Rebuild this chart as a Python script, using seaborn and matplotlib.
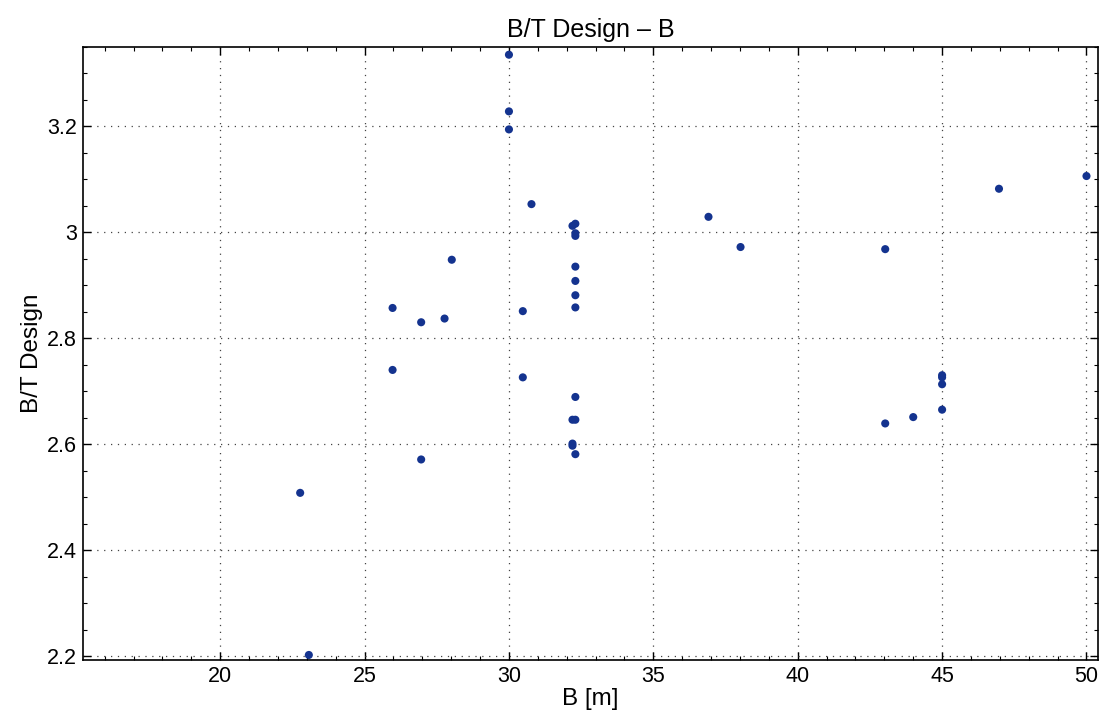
import matplotlib
matplotlib.use("Agg")
import matplotlib.pyplot as plt
from matplotlib.ticker import MultipleLocator
import seaborn as sns
import pandas as pd

B = [22.77, 23.07, 25.97, 25.97, 26.96, 26.96, 27.77, 28.02,
     30.0, 30.0, 30.0, 30.78, 30.48, 30.48,
     32.3, 32.2, 32.3, 32.3, 32.3, 32.3, 32.3, 32.3, 32.3,
     32.2, 32.3, 32.2, 32.2, 32.3,
     36.91, 38.02, 43.03, 46.97, 50.0,
     43.03, 44.0, 45.0, 45.0, 45.0, 45.0]
BT = [2.508, 2.202, 2.857, 2.740, 2.830, 2.571, 2.837, 2.948,
      3.335, 3.228, 3.194, 3.053, 2.851, 2.726,
      3.016, 3.012, 2.998, 2.993, 2.935, 2.908, 2.881, 2.858, 2.689,
      2.646, 2.646, 2.601, 2.597, 2.581,
      3.029, 2.972, 2.968, 3.082, 3.106,
      2.639, 2.651, 2.665, 2.713, 2.726, 2.730]

xticks = [20, 25, 30, 35, 40, 45, 50]
xtick_labels = ["20", "25", "30", "35", "40", "45", "50"]
yticks = [2.2, 2.4, 2.6, 2.8, 3.0, 3.2]
ytick_labels = ["2.2", "2.4", "2.6", "2.8", "3", "3.2"]

df = pd.DataFrame({"B [m]": B, "B/T Design": BT})

sns.set_theme(style="white")
plt.rcParams['font.family'] = ['Liberation Sans', 'DejaVu Sans']
plt.rcParams['text.color'] = 'black'
plt.rcParams['axes.labelcolor'] = 'black'

fig = plt.figure(figsize=(11.06, 7.24), dpi=100)
ax = fig.add_axes([0.0748, 0.0884, 0.918, 0.847])
sns.scatterplot(data=df, x="B [m]", y="B/T Design", ax=ax, s=34,
                color="#14338f", edgecolor="none", linewidth=0)

ax.set_xlim(15.24, 50.4)
ax.set_ylim(2.1925, 3.35)
ax.xaxis.set_minor_locator(MultipleLocator(1))
ax.yaxis.set_minor_locator(MultipleLocator(0.05))
ax.set_xticks(xticks)
ax.set_xticklabels(xtick_labels)
ax.set_yticks(yticks)
ax.set_yticklabels(ytick_labels)

ax.grid(True, which="major", linestyle=(0, (1, 4.5)), color="#444444", linewidth=0.9)
ax.tick_params(which="both", direction="in", top=True, right=True, bottom=True, left=True,
               colors="black", labelsize=15.5)
ax.tick_params(which="major", length=6, width=1, pad=4)
ax.tick_params(which="minor", length=3, width=0.8)
for sp in ax.spines.values():
    sp.set_color("black")
    sp.set_linewidth(1.2)

ax.set_xlabel("B [m]", fontsize=17.5, labelpad=1, color="black")
ax.set_ylabel("B/T Design", fontsize=17.5, labelpad=3, color="black")
ax.set_title("B/T Design \u2013 B", fontsize=18, pad=7, color="black")

fig.savefig("out.png", dpi=100, facecolor="white")
